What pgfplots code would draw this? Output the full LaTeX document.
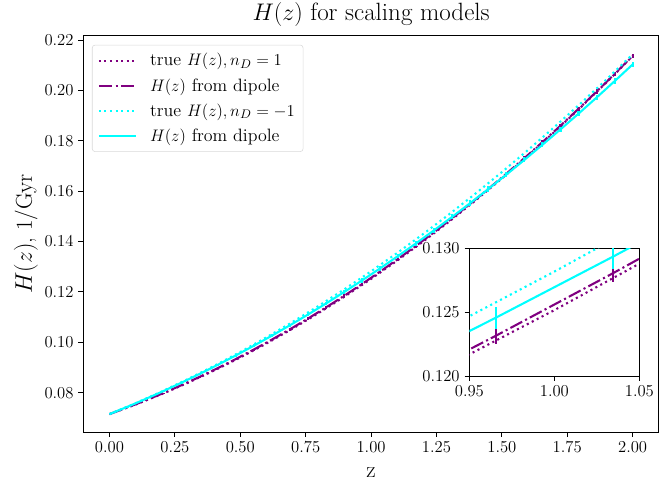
\documentclass[border=0pt]{standalone}
\usepackage{pgfplots}
\pgfplotsset{compat=1.18}
\usepackage{pgfplotstable}

\definecolor{mpurple}{HTML}{800080}
\definecolor{mcyan}{HTML}{00FFFF}

% true H(z) curves
\pgfplotstableread{
z    h1       h3
0.0  0.071500 0.071500
0.1  0.075301 0.075843
0.2  0.079450 0.080481
0.3  0.083946 0.085413
0.4  0.088790 0.090639
0.5  0.093983 0.096160
0.6  0.099522 0.101975
0.7  0.105410 0.108085
0.8  0.111646 0.114489
0.9  0.118229 0.121187
1.0  0.125160 0.128180
1.1  0.132439 0.135467
1.2  0.140066 0.143049
1.3  0.148040 0.150925
1.4  0.156362 0.159095
1.5  0.165033 0.167560
1.6  0.174050 0.176319
1.7  0.183416 0.185373
1.8  0.193130 0.194721
1.9  0.203192 0.204363
2.0  0.213600 0.214300
}\truetab

% H(z) from dipole, with errors
\pgfplotstableread{
z        h2       e2       h4       e4
0.00000  0.071500 0.00000  0.071500 0.00000
0.06897  0.074137 0.00005  0.074427 0.00007
0.13793  0.076936 0.00010  0.077487 0.00013
0.20690  0.079897 0.00014  0.080680 0.00019
0.27586  0.083018 0.00019  0.084005 0.00025
0.34483  0.086303 0.00024  0.087464 0.00031
0.41379  0.089749 0.00029  0.091054 0.00037
0.48276  0.093358 0.00034  0.094778 0.00043
0.55172  0.097128 0.00039  0.098634 0.00050
0.62069  0.101060 0.00043  0.102624 0.00056
0.68966  0.105154 0.00048  0.106747 0.00062
0.75862  0.109409 0.00053  0.111002 0.00068
0.82759  0.113827 0.00058  0.115389 0.00074
0.89655  0.118407 0.00063  0.119910 0.00081
0.96552  0.123148 0.00068  0.124564 0.00087
1.03448  0.128052 0.00070  0.129349 0.00095
1.10345  0.133118 0.00072  0.134269 0.00097
1.17241  0.138345 0.00074  0.139321 0.00099
1.24138  0.143734 0.00075  0.144505 0.00100
1.31034  0.149284 0.00076  0.149822 0.00101
1.37931  0.154997 0.00077  0.155273 0.00102
1.44828  0.160872 0.00078  0.160856 0.00103
1.51724  0.166909 0.00079  0.166572 0.00104
1.58621  0.173108 0.00080  0.172420 0.00105
1.65517  0.179469 0.00081  0.178401 0.00106
1.72414  0.185992 0.00082  0.184515 0.00107
1.79310  0.192675 0.00083  0.190762 0.00108
1.86207  0.199521 0.00084  0.197142 0.00109
1.93103  0.206530 0.00085  0.203654 0.00110
2.00000  0.213700 0.00086  0.210300 0.00111
}\diptab

\pgfplotsset{
  mplstyle/.style={
    scale only axis,
    axis line style={line width=0.6pt},
    tick align=outside,
    xtick pos=bottom, ytick pos=left,
    major tick length=3.5pt,
    every tick/.style={line width=0.6pt, black},
    tick label style={font=\fontsize{12.3}{14}\selectfont},
  },
  tdot/.style={line width=1.5pt, dash pattern=on 1.5pt off 2.5pt},
  tdashdot/.style={line width=1.5pt, dash pattern=on 9.6pt off 2.4pt on 1.5pt off 2.4pt},
  ebars/.style={error bars/.cd, y dir=both, y explicit, error mark=none,
    error bar style={solid, line width=1.5pt}},
}

\begin{document}
\begin{tikzpicture}
\useasboundingbox (-60pt,-35.3pt) rectangle (416.6pt,311pt);
\begin{axis}[
  mplstyle,
  width=414.3pt, height=285.3pt,
  xmin=-0.1, xmax=2.1, ymin=0.0644, ymax=0.2217,
  xtick={0,0.25,...,2.0},
  ytick={0.08,0.10,...,0.221},
  xticklabel style={/pgf/number format/.cd, fixed, fixed zerofill, precision=2},
  yticklabel style={/pgf/number format/.cd, fixed, fixed zerofill, precision=2},
  xlabel={z},
  ylabel={$H(z)$, 1/Gyr},
  label style={font=\fontsize{16.5}{19}\selectfont},
  xlabel style={yshift=-4pt},
  ylabel style={yshift=-2pt},
  title={$H(z)$ for scaling models},
  title style={font=\fontsize{18}{21}\selectfont, yshift=-3pt},
  legend cell align=left,
  legend style={at={(0.015,0.977)}, anchor=north west,
    draw=black!15, rounded corners=2pt, fill=white,
    font=\fontsize{12.9}{15}\selectfont, row sep=3.5pt,
    inner xsep=4pt, inner ysep=4pt},
  legend image code/.code={\draw[#1] plot coordinates {(0cm,0cm) (0.95cm,0cm)};
    \path (1.2cm,0cm);},
]
\addplot[mpurple, tdot] table[x=z, y=h1] {\truetab};
\addlegendentry{true $H(z), n_D=1$}
\addplot[mpurple, tdashdot, ebars] table[x=z, y=h2, y error=e2] {\diptab};
\addlegendentry{$H(z)$ from dipole}
\addplot[mcyan, tdot] table[x=z, y=h3] {\truetab};
\addlegendentry{true $H(z), n_D=-1$}
\addplot[mcyan, line width=1.5pt, ebars] table[x=z, y=h4, y error=e4] {\diptab};
\addlegendentry{$H(z)$ from dipole}
\end{axis}

\begin{axis}[
  mplstyle,
  at={(277.9pt,40.3pt)}, anchor=south west,
  width=122.4pt, height=91.9pt,
  axis background/.style={fill=white},
  xmin=0.95, xmax=1.05, ymin=0.120, ymax=0.130,
  xtick={0.95,1.00,1.05},
  ytick={0.120,0.125,0.130},
  xticklabel style={/pgf/number format/.cd, fixed, fixed zerofill, precision=2},
  yticklabel style={/pgf/number format/.cd, fixed, fixed zerofill, precision=3},
]
\addplot[mpurple, tdot] table[x=z, y=h1] {\truetab};
\addplot[mpurple, tdashdot, ebars] table[x=z, y=h2, y error=e2] {\diptab};
\addplot[mcyan, tdot] table[x=z, y=h3] {\truetab};
\addplot[mcyan, line width=1.5pt, ebars] table[x=z, y=h4, y error=e4] {\diptab};
\end{axis}
\end{tikzpicture}
\end{document}
